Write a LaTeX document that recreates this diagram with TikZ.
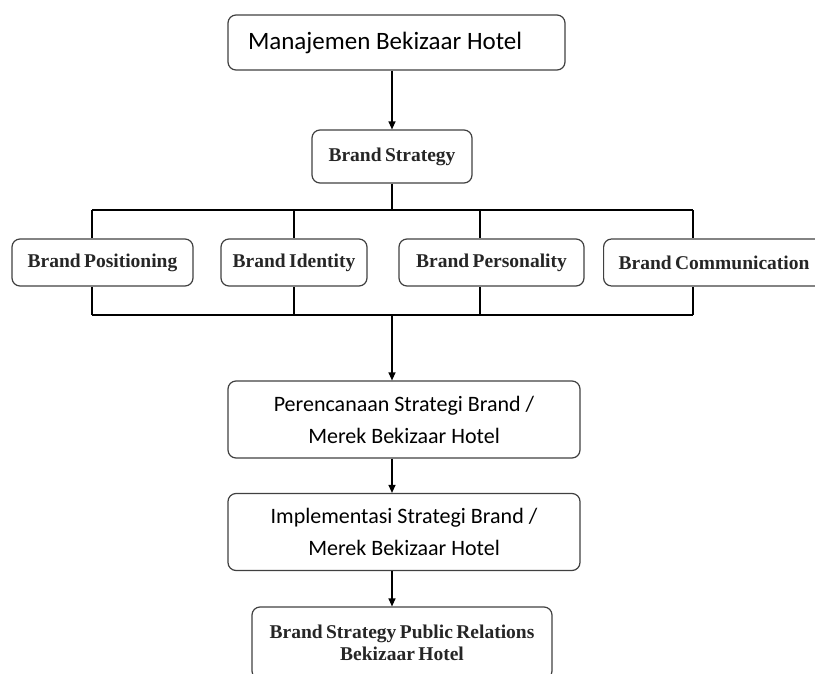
\documentclass[tikz,border=0pt]{standalone}
\usepackage{fontspec}
\setmainfont{Liberation Serif}
\newfontfamily\calibri{Carlito}
\newfontfamily\labelfont{Liberation Serif}[WordSpace=0.7]
\usetikzlibrary{arrows.meta,positioning}
\tikzset{
  post/.style    = {-{Triangle[length=8pt,width=7pt]}, line width=1.2pt},
  link/.style    = {line width=1.2pt},
  block/.style   = {draw=black!75, line width=1.2pt, rounded corners=8pt, align=center, inner sep=0pt},
  topbox/.style  = {block, font=\calibri\fontsize{25}{30}\selectfont, text width=297pt, inner xsep=20pt, align=flush left, minimum height=55pt},
  planbox/.style = {block, font=\calibri\fontsize{22}{32}\selectfont, minimum width=352pt, minimum height=77pt},
  elem/.style    = {block, font=\labelfont\bfseries\fontsize{19.5}{22.5}\selectfont, text=black!85, minimum height=47pt}
}

\begin{document}
\begin{tikzpicture}[x=1pt,y=-1pt]
    \useasboundingbox (0,0) rectangle (815,673);
    \clip (0,0) rectangle (815,673);
    % top part
    \node[topbox] (mgmt) at (396.5,42.5) {Manajemen Bekizaar Hotel};
    \node[elem, minimum width=160pt, minimum height=53pt] (strat) at (392,156.5) {Brand Strategy};
    \draw[post] (mgmt.south -| strat.north) -- (strat.north);
    % the four elements
    \node[elem, minimum width=181pt] (posi)  at (102.5,262.5) {Brand Positioning};
    \node[elem, minimum width=146pt] (ident) at (294,262.5)   {Brand Identity};
    \node[elem, minimum width=185pt] (pers)  at (491.5,262.5) {Brand Personality};
    \node[elem, text width=196pt, inner xsep=15pt, align=flush left, anchor=west] (comm) at (603,262.5) {Brand Communication};
    \foreach \x/\n in {92/a,294/b,480/c,693/d} {
        \coordinate (t\n) at (\x,210);
        \coordinate (b\n) at (\x,315);
    }
    \coordinate (busbot) at (392,315);
    \draw[link] (strat.south) -- (strat.south |- ta);
    \draw[link] (ta) -- (td);
    \draw[link] (ba) -- (bd);
    \draw[link] (ta) -- (ta |- posi.north);
    \draw[link] (tb) -- (tb |- ident.north);
    \draw[link] (tc) -- (tc |- pers.north);
    \draw[link] (td) -- (td |- comm.north);
    \draw[link] (ba) -- (ba |- posi.south);
    \draw[link] (bb) -- (bb |- ident.south);
    \draw[link] (bc) -- (bc |- pers.south);
    \draw[link] (bd) -- (bd |- comm.south);
    % lower chain
    \node[planbox] (plan) at (404,419.5) {Perencanaan Strategi Brand /\\Merek Bekizaar Hotel};
    \node[planbox] (impl) at (404,532)   {Implementasi Strategi Brand /\\Merek Bekizaar Hotel};
    \node[elem, minimum width=300pt, minimum height=72pt] (final) at (402,643) {Brand Strategy Public Relations\\Bekizaar Hotel};
    \draw[post] (busbot) -- (busbot |- plan.north);
    \draw[post] (plan.south -| busbot) -- (impl.north -| busbot);
    \draw[post] (impl.south -| busbot) -- (final.north -| busbot);
\end{tikzpicture}
\end{document}
